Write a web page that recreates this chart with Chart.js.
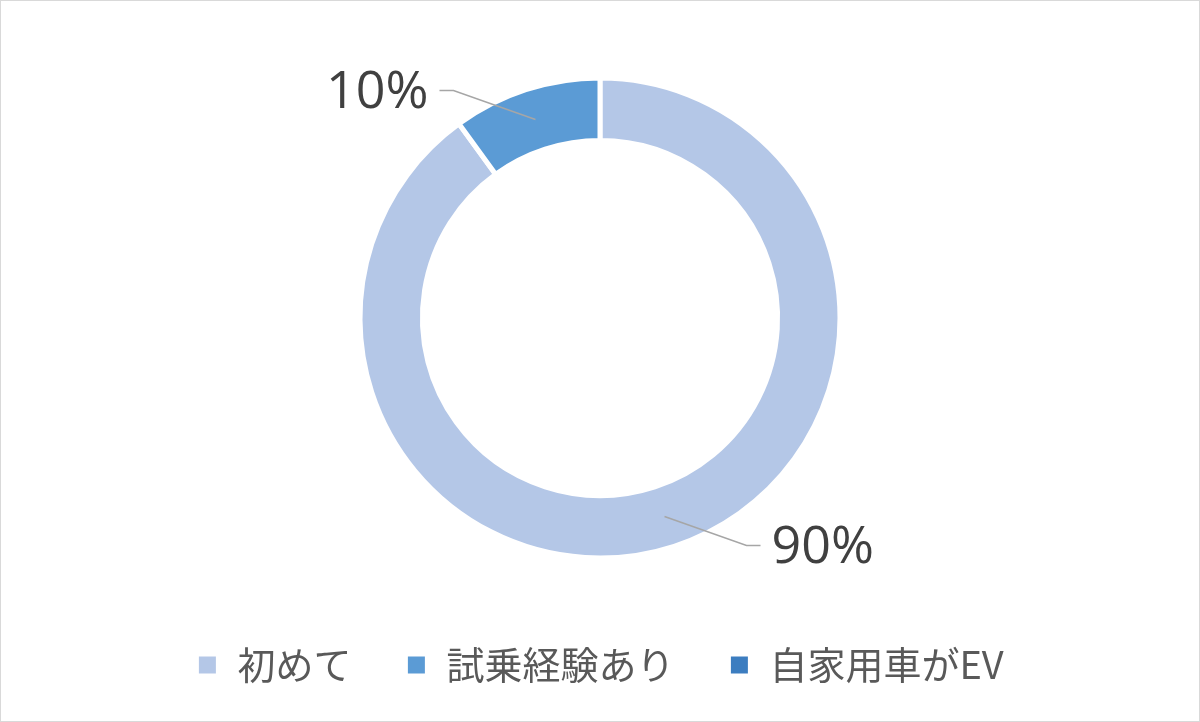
<!DOCTYPE html>
<html lang="ja">
<head>
    <meta charset="UTF-8">
    <title>EV 試乗経験</title>
    <script src="https://cdn.jsdelivr.net/npm/chart.js"></script>
    <style>
        html, body {
            margin: 0;
            padding: 0;
            background-color: white;
        }
        .wrap {
            position: relative;
            width: 1200px;
            height: 722px;
        }
        .frame {
            position: absolute;
            left: 0;
            top: 0;
            width: 1200px;
            height: 722px;
            box-sizing: border-box;
            border: 1px solid #d9d9d9;
            pointer-events: none;
        }
    </style>
</head>
<body>
    <div class="wrap">
        <canvas id="evChart" width="1200" height="722"></canvas>
        <div class="frame"></div>
    </div>

    <script>
        // データ
        const categories = ['初めて', '試乗経験あり', '自家用車がEV'];
        const shares = [90, 10, 0];
        const sliceColors = ['#b4c7e7', '#5b9bd5', '#3c7dc0'];

        // パーセント表示（引き出し線付き）
        const calloutLabels = {
            id: 'calloutLabels',
            afterDatasetsDraw(chart) {
                const ctx = chart.ctx;
                const meta = chart.getDatasetMeta(0);
                const values = chart.data.datasets[0].data;
                const total = values.reduce((a, b) => a + b, 0);
                ctx.save();
                meta.data.forEach((arc, i) => {
                    if (!values[i]) return;
                    const p = arc.getProps(['x', 'y', 'startAngle', 'endAngle', 'innerRadius', 'outerRadius'], true);
                    const mid = (p.startAngle + p.endAngle) / 2;
                    const rm = (p.innerRadius + p.outerRadius) / 2;
                    const cos = Math.cos(mid);
                    const sin = Math.sin(mid);
                    const sx = cos >= 0 ? 1 : -1;
                    const sy = sin >= 0 ? 1 : -1;
                    const x0 = p.x + cos * rm;
                    const y0 = p.y + sin * rm;
                    const x1 = x0 + sx * 82;
                    const y1 = y0 + sy * 29;
                    const x2 = x1 + sx * 14;

                    ctx.strokeStyle = '#a6a6a6';
                    ctx.lineWidth = 1.5;
                    ctx.beginPath();
                    ctx.moveTo(x0, y0);
                    ctx.lineTo(x1, y1);
                    ctx.lineTo(x2, y1);
                    ctx.stroke();

                    ctx.fillStyle = '#404040';
                    ctx.font = '52px "Open Sans", "Noto Sans", sans-serif';
                    ctx.textAlign = sx < 0 ? 'right' : 'left';
                    ctx.textBaseline = 'middle';
                    ctx.fillText(Math.round(values[i] / total * 100) + '%', x2 + sx * 11, y1 + 3);
                });
                ctx.restore();
            }
        };

        const ctx = document.getElementById('evChart').getContext('2d');
        new Chart(ctx, {
            type: 'doughnut',
            data: {
                labels: categories,
                datasets: [{
                    data: shares,
                    backgroundColor: sliceColors,
                    borderColor: '#ffffff',
                    borderWidth: 5,
                    radius: 240,
                    cutout: '74%'
                }]
            },
            options: {
                responsive: false,
                animation: false,
                devicePixelRatio: 1,
                layout: {
                    padding: { top: 44, bottom: 28, left: 0, right: 0 }
                },
                plugins: {
                    tooltip: { enabled: false },
                    legend: {
                        position: 'bottom',
                        labels: {
                            boxWidth: 22,
                            boxHeight: 22,
                            padding: 54,
                            color: '#595959',
                            font: {
                                family: '"Noto Sans CJK JP", sans-serif',
                                size: 38
                            }
                        }
                    }
                }
            },
            plugins: [calloutLabels]
        });
    </script>
</body>
</html>
